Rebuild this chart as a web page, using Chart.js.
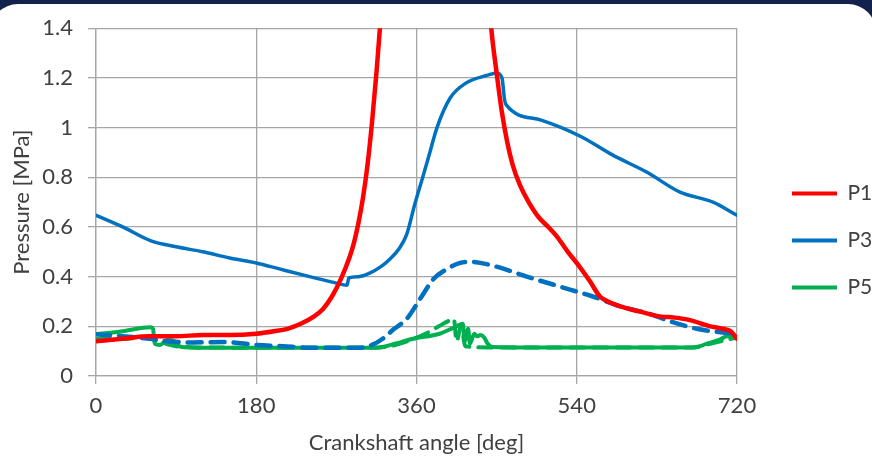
<!DOCTYPE html>
<html>
<head>
<meta charset="utf-8">
<script src="https://cdn.jsdelivr.net/npm/chart.js@4.4.1/dist/chart.umd.min.js"></script>
<style>
    html, body { margin: 0; padding: 0; }
    body { width: 872px; height: 462px; overflow: hidden; position: relative; background: #13224d; }
    .panel { position: absolute; left: -10px; top: 4px; width: 886px; height: 480px; background: #fff; border-radius: 28px; }
    .chart-box { position: absolute; left: 0; top: 0; width: 872px; height: 462px; }
</style>
</head>
<body>
<div class="panel"></div>
<div class="chart-box"><canvas id="pressureChart" width="872" height="462"></canvas></div>
<script>
// 軸刻度
const xTicks = [0, 180, 360, 540, 720];
const yTicks = [0, 0.2, 0.4, 0.6, 0.8, 1, 1.2, 1.4];

// P1 (紅)
const p1Angle = [0, 30, 60, 90, 120, 150, 180, 200, 215, 230, 245, 255, 265, 275, 285, 290, 295, 300, 305, 310, 315, 320, 330, 380, 438, 444, 450, 456, 462, 468, 476, 486, 497, 508, 518, 530, 541, 555, 566, 575, 589, 610, 633, 650, 667, 690, 704, 713, 720];
const p1Pressure = [0.14, 0.15, 0.16, 0.16, 0.165, 0.165, 0.17, 0.18, 0.19, 0.21, 0.24, 0.27, 0.32, 0.39, 0.48, 0.54, 0.62, 0.72, 0.85, 1.02, 1.22, 1.45, 2.0, 4.0, 1.7, 1.4, 1.22, 1.06, 0.94, 0.85, 0.77, 0.7, 0.64, 0.6, 0.56, 0.5, 0.45, 0.38, 0.32, 0.3, 0.28, 0.26, 0.24, 0.235, 0.225, 0.2, 0.19, 0.18, 0.15];

// P3 (藍)
const p3Angle = [0, 30, 61, 90, 120, 150, 180, 207, 240, 268, 282, 284, 295, 308, 320, 330, 340, 349, 358, 367, 375, 383, 398, 416, 439, 450, 456, 459, 461, 500, 544, 580, 619, 656, 693, 720];
const p3Pressure = [0.647, 0.6, 0.545, 0.52, 0.5, 0.475, 0.455, 0.43, 0.4, 0.376, 0.365, 0.395, 0.4, 0.415, 0.44, 0.47, 0.51, 0.57, 0.69, 0.8, 0.9, 1.0, 1.12, 1.18, 1.21, 1.22, 1.2, 1.11, 1.09, 1.03, 0.965, 0.89, 0.82, 0.74, 0.7, 0.647];

// P3 虛線
const p3bAngle = [0, 30, 60, 80, 109, 143, 181, 210, 240, 270, 296, 310, 322, 335, 349, 364, 379, 394, 409, 420, 450, 484, 521, 558, 589, 622, 645, 675, 704, 720];
const p3bPressure = [0.168, 0.16, 0.15, 0.14, 0.135, 0.137, 0.125, 0.12, 0.114, 0.114, 0.114, 0.125, 0.15, 0.19, 0.23, 0.31, 0.39, 0.43, 0.455, 0.46, 0.44, 0.4, 0.36, 0.32, 0.28, 0.25, 0.22, 0.19, 0.175, 0.17];

// P5 (綠)
const p5Angle = [0, 30, 61, 64, 66, 72, 80, 88, 95, 120, 180, 240, 316, 336, 356, 386, 405, 412, 414, 418, 420, 425, 428, 432, 436, 440, 445, 500, 560, 620, 673, 686, 700, 709, 720];
const p5Pressure = [0.168, 0.18, 0.196, 0.19, 0.13, 0.125, 0.145, 0.14, 0.118, 0.114, 0.114, 0.114, 0.114, 0.13, 0.15, 0.17, 0.2, 0.21, 0.14, 0.19, 0.13, 0.17, 0.16, 0.165, 0.155, 0.13, 0.117, 0.115, 0.115, 0.115, 0.115, 0.13, 0.145, 0.16, 0.155];

// P5 虛線
const p5bAngle = [0, 30, 55, 62, 70, 90, 120, 180, 240, 300, 330, 350, 370, 385, 395, 402, 405, 410, 415, 440, 500, 600, 670, 690, 720];
const p5bPressure = [0.15, 0.15, 0.155, 0.15, 0.14, 0.12, 0.115, 0.114, 0.114, 0.114, 0.12, 0.14, 0.17, 0.2, 0.22, 0.23, 0.14, 0.2, 0.12, 0.115, 0.115, 0.115, 0.115, 0.13, 0.155];

const toPoints = (xs, ys) => xs.map((x, i) => ({ x: x, y: ys[i] }));

const textColor = '#404040';
const gridColor = '#a6a6a6';
const fontFamily = 'Lato, "Open Sans", sans-serif';

let ctx = document.getElementById('pressureChart');
new Chart(ctx, {
    type: 'line',
    data: {
        datasets: [
            { label: 'P1', data: toPoints(p1Angle, p1Pressure), borderColor: '#ff0000', backgroundColor: '#ff0000', borderWidth: 4.5 },
            { label: 'P3', data: toPoints(p3Angle, p3Pressure), borderColor: '#0070c0', backgroundColor: '#0070c0', borderWidth: 3.5 },
            { label: 'P3b', data: toPoints(p3bAngle, p3bPressure), borderColor: '#0070c0', backgroundColor: '#0070c0', borderWidth: 4.5, borderDash: [14, 9] },
            { label: 'P5b', data: toPoints(p5bAngle, p5bPressure), borderColor: '#00b050', backgroundColor: '#00b050', borderWidth: 4, borderDash: [14, 9] },
            { label: 'P5', data: toPoints(p5Angle, p5Pressure), borderColor: '#00b050', backgroundColor: '#00b050', borderWidth: 4 }
        ]
    },
    options: {
        responsive: false,
        animation: false,
        devicePixelRatio: 1,
        layout: { padding: { top: 19, bottom: 0, left: 0, right: 0 } },
        elements: {
            point: { radius: 0 },
            line: { cubicInterpolationMode: 'monotone', borderCapStyle: 'round', borderJoinStyle: 'round' }
        },
        scales: {
            x: {
                type: 'linear',
                min: 0,
                max: 720,
                afterBuildTicks: s => { s.ticks = xTicks.map(v => ({ value: v })); },
                afterFit: s => { s.height = 86; },
                ticks: { color: textColor, font: { family: fontFamily, size: 22 }, padding: 9, maxRotation: 0, autoSkip: false },
                grid: { color: gridColor, lineWidth: 1.3, tickLength: 8 },
                border: { color: gridColor, width: 1.3 },
                title: { display: true, text: 'Crankshaft angle [deg]', color: textColor, font: { family: fontFamily, size: 22 }, padding: { top: 0, bottom: 6 } }
            },
            y: {
                min: 0,
                max: 1.4,
                afterBuildTicks: s => { s.ticks = yTicks.map(v => ({ value: v })); },
                afterFit: s => { s.width = 96; },
                ticks: { color: textColor, font: { family: fontFamily, size: 22 }, padding: 15, autoSkip: false, callback: v => String(Number(v.toFixed(1))) },
                grid: { color: gridColor, lineWidth: 1.3, tickLength: 8 },
                border: { color: gridColor, width: 1.3 },
                title: { display: true, text: 'Pressure [MPa]', color: textColor, font: { family: fontFamily, size: 22 }, padding: { top: 9, bottom: 0 } }
            },
            // 圖例前的留白
            gap: {
                position: 'right',
                display: true,
                ticks: { display: false },
                grid: { display: false, drawTicks: false },
                border: { display: false },
                afterFit: s => { s.width = 29; }
            }
        },
        plugins: {
            tooltip: { enabled: false },
            legend: {
                position: 'right',
                maxWidth: 106,
                labels: {
                    color: textColor,
                    font: { family: fontFamily, size: 21 },
                    boxWidth: 45,
                    boxHeight: 4,
                    padding: 26,
                    filter: item => item.text === 'P1' || item.text === 'P3' || item.text === 'P5',
                    generateLabels: chart => Chart.defaults.plugins.legend.labels.generateLabels(chart)
                        .map(item => Object.assign(item, { lineWidth: 0, lineDash: [] }))
                }
            }
        }
    }
});
</script>
</body>
</html>
